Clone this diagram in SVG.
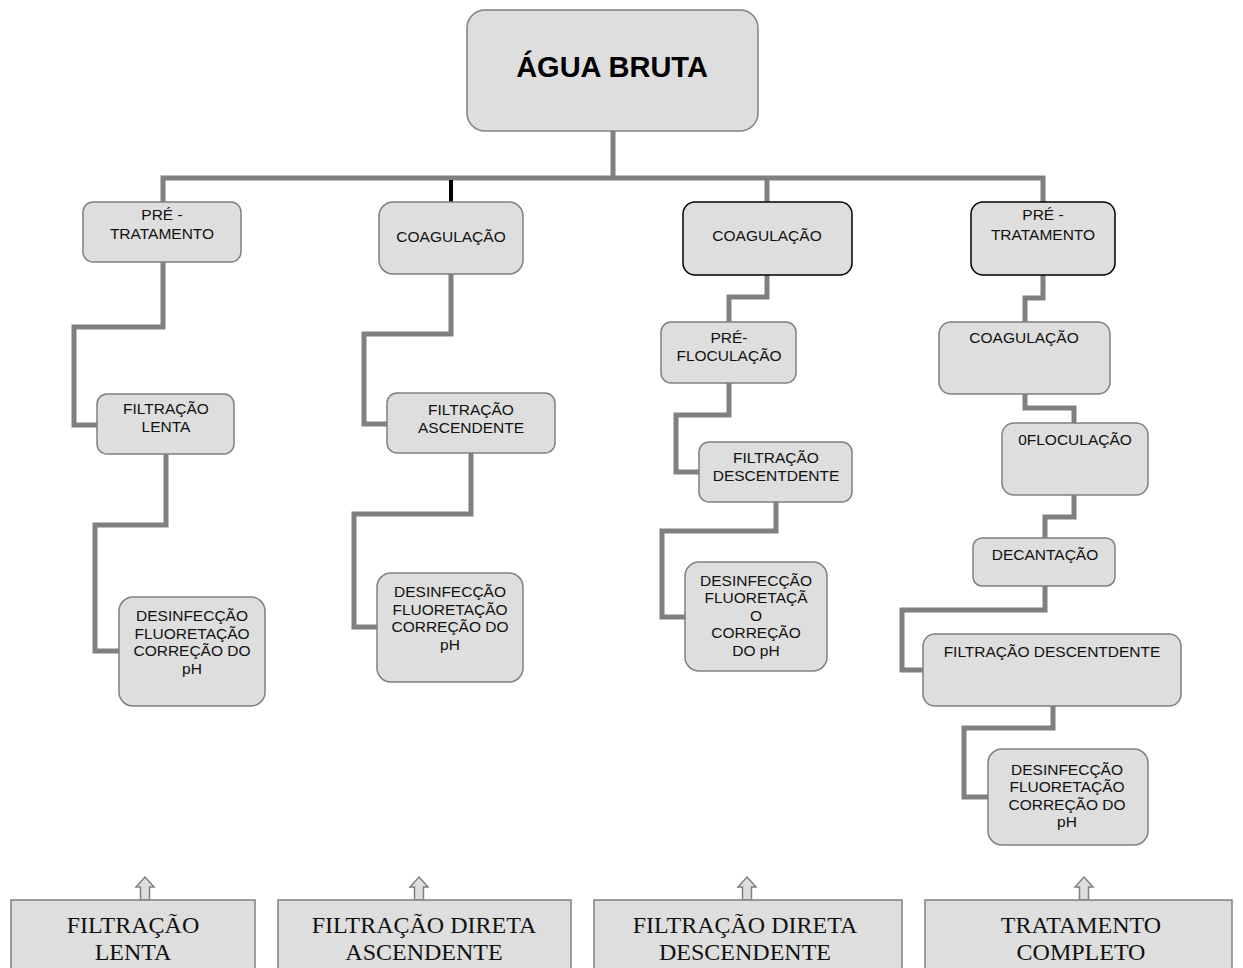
<svg xmlns="http://www.w3.org/2000/svg" width="1243" height="968" viewBox="0 0 1243 968">
<style>
.n{fill:#dedede;stroke:#808080;stroke-width:1.5}
.nb{fill:#dedede;stroke:#000;stroke-width:1.5}
.t{font-family:"Liberation Sans",Arial,sans-serif;font-size:15.5px;text-anchor:middle;fill:#111}
.big{font-family:"Liberation Sans",Arial,sans-serif;font-size:29px;font-weight:bold;text-anchor:middle;fill:#000}
.c{fill:none;stroke:#808080;stroke-width:5;stroke-linejoin:miter}
.bx{fill:#dedede;stroke:#808080;stroke-width:1.5}
.bt{font-family:"Liberation Serif","Times New Roman",serif;font-size:24px;text-anchor:middle;fill:#111}
.ar{fill:#dedede;stroke:#808080;stroke-width:1.5}
</style>
<rect width="1243" height="968" fill="#fff"/>
<g id="connectors">
<path class="c" d="M613,131 V178"/>
<path class="c" d="M163,202 V178 H1043 V202"/>
<path class="c" d="M767,178 V202"/>
<path d="M451,180 V202" fill="none" stroke="#000" stroke-width="4"/>
<path class="c" d="M163,262 V327 H74 V425 H97"/>
<path class="c" d="M166,454 V525 H95 V651 H119"/>
<path class="c" d="M451,274 V334 H364 V424 H387"/>
<path class="c" d="M471,453 V514 H354 V627 H377"/>
<path class="c" d="M767,275 V297 H729 V322"/>
<path class="c" d="M729,383 V415 H676 V472 H699"/>
<path class="c" d="M776,502 V531 H662 V617 H685"/>
<path class="c" d="M1043,275 V298 H1025 V322"/>
<path class="c" d="M1025,394 V408 H1074 V423"/>
<path class="c" d="M1074,495 V517 H1045 V538"/>
<path class="c" d="M1045,586 V610 H902 V670 H923"/>
<path class="c" d="M1053,706 V728 H964 V797 H988"/>
</g>
<g id="agua-bruta">
<rect class="n" x="467" y="10" width="291" height="121" rx="18"/>
<text class="big" x="612" y="77">ÁGUA BRUTA</text>
</g>
<g id="c1-pre">
<rect class="n" x="83" y="202" width="158" height="60" rx="10"/>
<text class="t" x="162" y="220">PRÉ -</text>
<text class="t" x="162" y="239">TRATAMENTO</text>
</g>
<g id="c1-filt">
<rect class="n" x="97" y="394" width="137" height="60" rx="10"/>
<text class="t" x="166" y="414">FILTRAÇÃO</text>
<text class="t" x="166" y="432">LENTA</text>
</g>
<g id="c1-des">
<rect class="n" x="119" y="597" width="146" height="109" rx="14"/>
<text class="t" x="192" y="621">DESINFECÇÃO</text>
<text class="t" x="192" y="639">FLUORETAÇÃO</text>
<text class="t" x="192" y="656">CORREÇÃO DO</text>
<text class="t" x="192" y="674">pH</text>
</g>
<g id="c2-coag">
<rect class="n" x="379" y="202" width="144" height="72" rx="14"/>
<text class="t" x="451" y="242">COAGULAÇÃO</text>
</g>
<g id="c2-filt">
<rect class="n" x="387" y="393" width="168" height="60" rx="10"/>
<text class="t" x="471" y="415">FILTRAÇÃO</text>
<text class="t" x="471" y="433">ASCENDENTE</text>
</g>
<g id="c2-des">
<rect class="n" x="377" y="573" width="146" height="109" rx="14"/>
<text class="t" x="450" y="597">DESINFECÇÃO</text>
<text class="t" x="450" y="615">FLUORETAÇÃO</text>
<text class="t" x="450" y="632">CORREÇÃO DO</text>
<text class="t" x="450" y="650">pH</text>
</g>
<g id="c3-coag">
<rect class="nb" x="683" y="202" width="169" height="73" rx="12"/>
<text class="t" x="767" y="241">COAGULAÇÃO</text>
</g>
<g id="c3-pref">
<rect class="n" x="661" y="322" width="135" height="61" rx="10"/>
<text class="t" x="729" y="343">PRÉ-</text>
<text class="t" x="729" y="361">FLOCULAÇÃO</text>
</g>
<g id="c3-filt">
<rect class="n" x="699" y="442" width="153" height="60" rx="10"/>
<text class="t" x="776" y="463">FILTRAÇÃO</text>
<text class="t" x="776" y="481">DESCENTDENTE</text>
</g>
<g id="c3-des">
<rect class="n" x="685" y="562" width="142" height="109" rx="14"/>
<text class="t" x="756" y="586">DESINFECÇÃO</text>
<text class="t" x="756" y="603">FLUORETAÇÃ</text>
<text class="t" x="756" y="621">O</text>
<text class="t" x="756" y="638">CORREÇÃO</text>
<text class="t" x="756" y="656">DO pH</text>
</g>
<g id="c4-pre">
<rect class="nb" x="971" y="202" width="144" height="73" rx="12"/>
<text class="t" x="1043" y="220">PRÉ -</text>
<text class="t" x="1043" y="240">TRATAMENTO</text>
</g>
<g id="c4-coag">
<rect class="n" x="939" y="322" width="171" height="72" rx="12"/>
<text class="t" x="1024" y="343">COAGULAÇÃO</text>
</g>
<g id="c4-floc">
<rect class="n" x="1002" y="423" width="146" height="72" rx="12"/>
<text class="t" x="1075" y="445">0FLOCULAÇÃO</text>
</g>
<g id="c4-dec">
<rect class="n" x="973" y="538" width="142" height="48" rx="9"/>
<text class="t" x="1045" y="560">DECANTAÇÃO</text>
</g>
<g id="c4-filt">
<rect class="n" x="923" y="634" width="258" height="72" rx="12"/>
<text class="t" x="1052" y="657">FILTRAÇÃO DESCENTDENTE</text>
</g>
<g id="c4-des">
<rect class="n" x="988" y="749" width="160" height="96" rx="14"/>
<text class="t" x="1067" y="775">DESINFECÇÃO</text>
<text class="t" x="1067" y="792">FLUORETAÇÃO</text>
<text class="t" x="1067" y="810">CORREÇÃO DO</text>
<text class="t" x="1067" y="827">pH</text>
</g>
<g id="b1">
<path class="ar" d="M145,877 L154,887 L149.5,887 L149.5,900 L140.5,900 L140.5,887 L136,887 Z"/>
<rect class="bx" x="11" y="900" width="244" height="80"/>
<text class="bt" x="133" y="933">FILTRAÇÃO</text>
<text class="bt" x="133" y="960">LENTA</text>
</g>
<g id="b2">
<path class="ar" d="M419,877 L428,887 L423.5,887 L423.5,900 L414.5,900 L414.5,887 L410,887 Z"/>
<rect class="bx" x="278" y="900" width="293" height="80"/>
<text class="bt" x="424" y="933">FILTRAÇÃO DIRETA</text>
<text class="bt" x="424" y="960">ASCENDENTE</text>
</g>
<g id="b3">
<path class="ar" d="M747,877 L756,887 L751.5,887 L751.5,900 L742.5,900 L742.5,887 L738,887 Z"/>
<rect class="bx" x="594" y="900" width="308" height="80"/>
<text class="bt" x="745" y="933">FILTRAÇÃO DIRETA</text>
<text class="bt" x="745" y="960">DESCENDENTE</text>
</g>
<g id="b4">
<path class="ar" d="M1084,877 L1093,887 L1088.5,887 L1088.5,900 L1079.5,900 L1079.5,887 L1075,887 Z"/>
<rect class="bx" x="925" y="900" width="307" height="80"/>
<text class="bt" x="1081" y="933">TRATAMENTO</text>
<text class="bt" x="1081" y="960">COMPLETO</text>
</g>
</svg>
